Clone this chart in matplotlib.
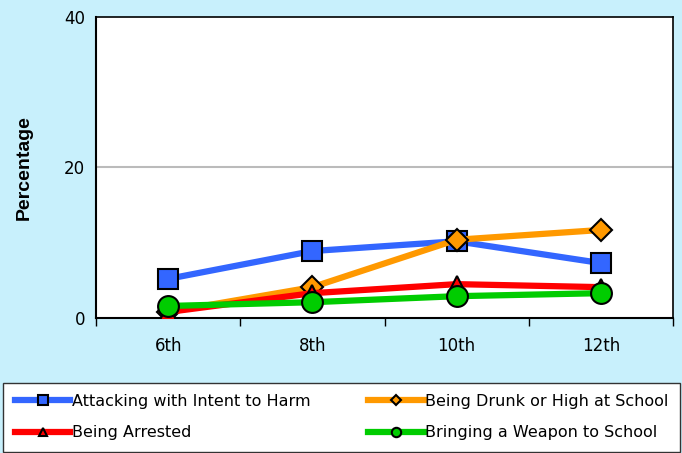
import numpy as np
import matplotlib.pyplot as plt

grades = ['6th', '8th', '10th', '12th']
attacking = [5.2, 8.9, 10.2, 7.3]
drunk = [0.8, 4.1, 10.4, 11.7]
arrested = [0.8, 3.3, 4.5, 4.1]
weapon = [1.6, 2.1, 2.9, 3.3]

bg = '#C8F0FC'

fig = plt.figure(figsize=(6.82, 4.53), dpi=100, facecolor=bg)
ax = fig.add_axes([0.1408, 0.298, 0.846, 0.6645])
ax.set_facecolor('white')

x = np.arange(len(grades))
lw = 4.5
h1, = ax.plot(x, attacking, color='#3366FF', lw=lw, marker='s', ms=15,
              mfc='#3366FF', mec='black', mew=1.5, label='Attacking with Intent to Harm', zorder=3)
h2, = ax.plot(x, drunk, color='#FF9900', lw=lw, marker='D', ms=11,
              mfc='#FF9900', mec='black', mew=1.5, label='Being Drunk or High at School', zorder=4)
h3, = ax.plot(x, arrested, color='#FF0000', lw=lw, marker='^', ms=12,
              mfc='#FF0000', mec='black', mew=1.5, label='Being Arrested', zorder=5)
h4, = ax.plot(x, weapon, color='#00CC00', lw=lw, marker='o', ms=15,
              mfc='#00CC00', mec='black', mew=1.5, label='Bringing a Weapon to School', zorder=6)

ax.set_xlim(-0.5, 3.5)
ax.set_ylim(0, 40)
ax.set_yticks([0, 20, 40])
ax.tick_params(axis='y', length=0, labelsize=12, pad=8)
ax.set_xticks(x)
ax.set_xticklabels(grades)
ax.set_xticks([-0.5, 0.5, 1.5, 2.5, 3.5], minor=True)
ax.tick_params(axis='x', which='major', length=0, labelsize=12, pad=14)
ax.tick_params(axis='x', which='minor', length=6, width=1, direction='out')
ax.axhline(20, color='#BBBBBB', lw=1.5, zorder=1)

for s in ax.spines.values():
    s.set_color('black')
    s.set_linewidth(1.2)
ax.spines['left'].set_linewidth(1.5)
ax.spines['bottom'].set_linewidth(1.5)

ax.set_ylabel('Percentage', fontsize=14, fontweight='bold', family='Liberation Sans', labelpad=22)

leg = fig.legend(handles=[h1, h3, h2, h4], loc='lower left',
                 ncol=2, fontsize=11.5, frameon=True, fancybox=False, framealpha=1,
                 markerscale=0.45, handlelength=3.5, handletextpad=0.1, columnspacing=1,
                 borderpad=0.7, labelspacing=1.05, mode='expand', borderaxespad=0,
                 bbox_to_anchor=(0.005, 0.003, 0.992, 0.15))
leg.get_frame().set_edgecolor('#333333')
leg.get_frame().set_linewidth(1)

fig.savefig('out.png', dpi=100, facecolor=bg)
